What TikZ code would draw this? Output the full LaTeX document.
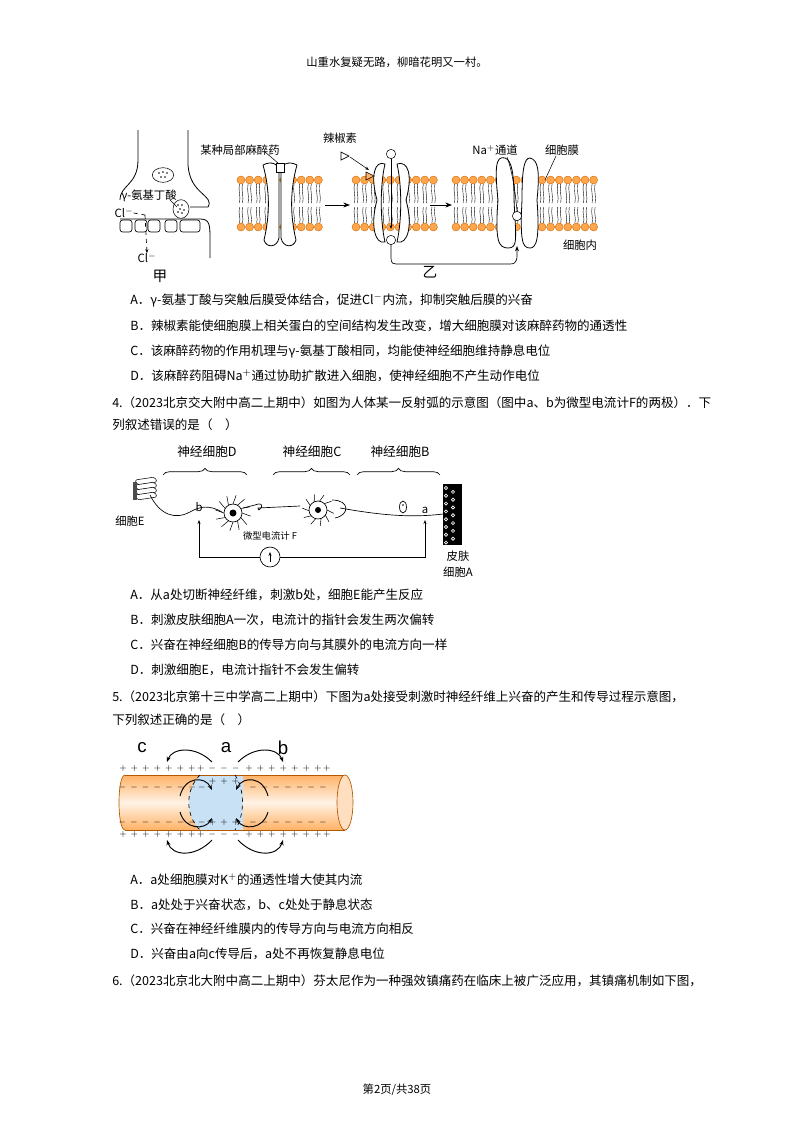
\documentclass[tikz,border=0pt]{standalone}
\usepackage{fontspec}
\setmainfont{Liberation Serif}
\newfontfamily\cjk{Noto Sans CJK SC}
\newfontfamily\lsans{Liberation Sans}
\usetikzlibrary{arrows.meta,decorations.pathreplacing,calc,shapes.geometric}
\definecolor{lblue}{RGB}{200,225,245}
\begin{document}
\begin{tikzpicture}[x=0.75pt,y=-0.75pt,
  txt/.style={anchor=west,inner sep=0,font=\cjk\fontsize{9.4}{12}\selectfont},
  lbl/.style={inner sep=0,font=\cjk\fontsize{8.5}{10}\selectfont},
  sg/.style={inner sep=0,font=\fontsize{6}{7}\selectfont},
  bead/.style={fill=orange!70,draw=orange!80!black,line width=0.3pt},
  prot/.style={draw,fill=white,line width=0.6pt},
  arr/.style={-{Stealth[length=5pt]},line width=0.6pt}]
\useasboundingbox (0,0) rectangle (794,1122);
\node[lbl] (hdr) at (397,62) {山重水复疑无路，柳暗花明又一村。};
% ---------- figure 1 jia
\draw[line width=0.6pt] (138,130) -- (138,160) .. controls (138,185) and (120,185) .. (120,200);
\draw[line width=0.6pt] (188,130) -- (188,165) .. controls (190,195) and (215,195) .. (208,207) -- (190,207);
\draw[line width=0.6pt] (120,219) -- (200,219) .. controls (210,219) and (210,225) .. (210,240) -- (210,258);
\foreach \x in {120,135,148,165}{\draw[line width=0.5pt,rounded corners=2pt] (\x,220) rectangle ++(12,12);}
\draw[line width=0.5pt,rounded corners=2pt] (180,220) rectangle ++(20,12);
\node[draw,ellipse,minimum width=16pt,minimum height=11pt,inner sep=0] (ves1) at (163,175) {};
\foreach \p in {(159,173),(163,172),(167,173),(161,177),(165,177)}{\fill \p circle (0.9);}
\node[draw,ellipse,fill=white,minimum width=12pt,minimum height=14pt,inner sep=0] (ves2) at (181,209) {};
\foreach \p in {(178,205),(182,205),(180,209),(184,210),(178,212),(182,213)}{\fill \p circle (0.9);}
\node[lbl,anchor=west] (gaba) at (121,196) {γ-氨基丁酸};
\draw[line width=0.4pt] (170,200) -- (177,207);
\node[lbl] (cl1) at (124,213) {Cl$^{-}$};
\node[lbl] (cl2) at (147,258) {Cl$^{-}$};
\draw[dashed,line width=0.5pt] (cl1.east) -- (145,215);
\draw[dashed,-{Stealth[length=3pt]},line width=0.5pt] (145,215) -- (cl2.north);
\node[lbl,font=\cjk\fontsize{11}{12}\selectfont] (jia) at (160,276) {甲};
% ---------- membranes
\foreach \s/\e in {237/323,352/430,452/590}{
  \pgfmathsetmacro{\n}{int((\e-\s)/8.6)}
  \foreach \i in {0,...,\n}{
    \pgfmathsetmacro{\xx}{\s+4+\i*8.6}
    \draw[line width=0.3pt] (\xx-1.5,184) .. controls (\xx-3,192) and (\xx,196) .. (\xx-1.5,203);
    \draw[line width=0.3pt] (\xx+1.5,184) .. controls (\xx,192) and (\xx+3,196) .. (\xx+1.5,203);
    \draw[line width=0.3pt] (\xx-1.5,207) .. controls (\xx-3,214) and (\xx,218) .. (\xx-1.5,223);
    \draw[line width=0.3pt] (\xx+1.5,207) .. controls (\xx,214) and (\xx+3,218) .. (\xx+1.5,223);
    \draw[bead] (\xx,180) circle (4);
    \draw[bead] (\xx,227) circle (4);
  }
}
% protein 1
\draw[prot] (263,165) .. controls (272,160) and (280,165) .. (279,172) -- (279,238) .. controls (277,248) and (266,248) .. (264,240) .. controls (270,215) and (270,190) .. (263,165);
\draw[prot] (297,165) .. controls (288,160) and (280,165) .. (281,172) -- (281,238) .. controls (283,248) and (294,248) .. (296,240) .. controls (290,215) and (290,190) .. (297,165);
\draw[prot] (276,163) rectangle (284,172);
\node[lbl,anchor=west] (ma) at (200,150) {某种局部麻醉药};
\draw[line width=0.4pt] (265,152) -- (278,163);
\draw[arr] (325,205) -- (350,205);
% protein 2
\draw[prot] (385,164) .. controls (375,160) and (370,175) .. (377,200) .. controls (370,225) and (375,245) .. (385,242) .. controls (380,220) and (380,185) .. (385,164);
\draw[prot] (397,164) .. controls (408,160) and (413,175) .. (406,200) .. controls (413,225) and (408,245) .. (397,242) .. controls (402,220) and (402,185) .. (397,164);
\draw[fill=orange!60,line width=0.4pt] (366,172) -- (374,176) -- (366,180) -- cycle;
\node[draw,circle,minimum size=7pt,inner sep=0] (na1) at (391,154) {};
\node[draw,circle,minimum size=7pt,inner sep=0] (na2) at (391,240) {};
\draw[-{Stealth[length=3pt]},line width=0.4pt] (na1.south) -- ++(0,70);
\draw[line width=0.5pt] (341,152) -- (349,156) -- (341,160) -- cycle;
\node[lbl] (lj) at (340,138) {辣椒素};
\draw[-{Stealth[length=3pt]},line width=0.4pt] (350,157) -- (369,170);
\draw[arr] (430,205) -- (452,205);
% protein 3
\draw[prot] (505,158) .. controls (495,155) and (495,170) .. (498,200) .. controls (495,240) and (498,248) .. (508,248) .. controls (518,248) and (516,240) .. (514,200) .. controls (514,175) and (512,160) .. (505,158);
\draw[prot] (530,158) .. controls (538,160) and (540,170) .. (537,200) .. controls (540,240) and (536,248) .. (530,248) .. controls (522,248) and (520,240) .. (522,200) .. controls (522,170) and (524,158) .. (530,158);
\node[draw,circle,fill=white,minimum size=7pt,inner sep=0] (na3) at (517,216) {};
\node[lbl] (nac) at (495,150) {Na$^{+}$通道};
\draw[line width=0.4pt] (507,157) .. controls (512,170) and (516,195) .. (517,212);
\node[lbl] (mem) at (562,150) {细胞膜};
\draw[line width=0.4pt] (556,156) -- (545,180);
\node[lbl] (nei) at (580,245) {细胞内};
\draw[-{Stealth[length=4pt]},line width=0.5pt] (na2.south) -- (391,258) .. controls (391,264) and (393,264) .. (400,264) -- (510,264) .. controls (518,264) and (517,258) .. (517,246);
\node[lbl,font=\cjk\fontsize{11}{12}\selectfont] (yi) at (430,272) {乙};
% ---------- Q3 options
\node[txt] (q3a) at (130,300) {A．γ-氨基丁酸与突触后膜受体结合，促进Cl$^{-}$内流，抑制突触后膜的兴奋};
\node[txt] (q3b) at (130,326) {B．辣椒素能使细胞膜上相关蛋白的空间结构发生改变，增大细胞膜对该麻醉药物的通透性};
\node[txt] (q3c) at (130,351) {C．该麻醉药物的作用机理与γ-氨基丁酸相同，均能使神经细胞维持静息电位};
\node[txt] (q3d) at (130,376) {D．该麻醉药阻碍Na$^{+}$通过协助扩散进入细胞，使神经细胞不产生动作电位};
\node[txt] (q4) at (112,403) {4.（2023北京交大附中高二上期中）如图为人体某一反射弧的示意图（图中a、b为微型电流计F的两极）．下};
\node[txt] (q4b) at (112,425) {列叙述错误的是（　）};
% ---------- figure 2
\foreach \a/\b/\t/\c in {163/247/神经细胞D/207,273/350/神经细胞C/312,357/440/神经细胞B/400}{
  \draw[decorate,decoration={brace,amplitude=5pt},line width=0.5pt] (\a,475) -- (\b,475);
  \node[lbl,font=\cjk\fontsize{9.5}{11}\selectfont] at (\c,452) {\t};
}
\foreach \yy in {0,5,10,15}{\draw[line width=0.4pt,fill=white,rounded corners=1.5pt] (135,480+\yy) -- (155,477+\yy) -- (157,482+\yy) -- (137,485+\yy) -- cycle;}
\fill[black!70] (133,482) rectangle (137,500);
\node[lbl] (E) at (130,521) {细胞E};
\draw[line width=0.5pt] (150,495) .. controls (160,515) and (175,520) .. (190,512) .. controls (200,506) and (210,505) .. (222,512);
\node[lbl] (b) at (199,507) {b};
% neuron D
\fill (233,513) circle (3.5);
\draw[line width=0.5pt] (233,513) circle (9);
\foreach \ang in {0,30,...,330}{\draw[line width=0.4pt] ($(233,513)+(\ang:9)$) -- ($(233,513)+(\ang+10:18)$);}
\draw[line width=0.5pt] (243,508) -- (255,505) .. controls (268,500) and (258,515) .. (258,508) -- (300,506);
% neuron C
\fill (318,510) circle (3);
\draw[line width=0.5pt] (318,510) circle (9);
\foreach \ang in {0,35,...,330}{\draw[line width=0.4pt] ($(318,510)+(\ang:9)$) -- ($(318,510)+(\ang+12:16)$);}
\draw[line width=0.5pt] (332,500) .. controls (350,500) and (350,515) .. (335,518);
\draw[line width=0.5pt] (340,508) .. controls (380,515) and (410,518) .. (443,514);
\draw[line width=0.5pt] (403,507) ellipse (3.5 and 6);
\fill (403,505) circle (0.8);
\node[lbl] (a) at (425,510) {a};
% skin
\fill (443,484) rectangle (462,545);
\foreach \i in {0,...,14}{\pgfmathsetmacro{\px}{446+mod(\i*7,14)}\pgfmathsetmacro{\py}{488+\i*3.9}\draw[white,line width=0.5pt] (\px,\py) circle (1.6);}
\node[lbl] (skin) at (458,556) {皮肤};
\node[lbl] (skinA) at (458,572) {细胞A};
% meter
\node[draw,circle,minimum size=15pt,inner sep=0,line width=0.5pt] (F) at (270,557) {};
\draw[-{Stealth[length=3pt]},line width=0.5pt] ($(F)+(0,5)$) -- ($(F)+(0,-5)$);
\node[lbl,font=\cjk\fontsize{7}{8}\selectfont] (Fl) at (270,536) {微型电流计 F};
\draw[-{Stealth[length=3pt]},line width=0.5pt] (F.west) -- (199,557) -- (199,520);
\draw[-{Stealth[length=3pt]},line width=0.5pt] (F.east) -- (425,557) -- (425,520);
% ---------- Q4 options
\node[txt] (q4a) at (130,595) {A．从a处切断神经纤维，刺激b处，细胞E能产生反应};
\node[txt] (q4bb) at (130,620) {B．刺激皮肤细胞A一次，电流计的指针会发生两次偏转};
\node[txt] (q4c) at (130,645) {C．兴奋在神经细胞B的传导方向与其膜外的电流方向一样};
\node[txt] (q4d) at (130,670) {D．刺激细胞E，电流计指针不会发生偏转};
\node[txt] (q5) at (112,697) {5.（2023北京第十三中学高二上期中）下图为a处接受刺激时神经纤维上兴奋的产生和传导过程示意图，};
\node[txt] (q5b) at (112,720) {下列叙述正确的是（　）};
% ---------- figure 3
\shade[top color=orange!60,bottom color=orange!60,middle color=orange!10] (125,775) rectangle (345,830);
\shade[top color=orange!60,bottom color=orange!60,middle color=orange!10] (125,775) .. controls (117,775) and (117,830) .. (125,830) -- cycle;
\fill[lblue] (200,775) .. controls (185,790) and (185,815) .. (200,830) -- (243,830) -- (243,775) -- cycle;
\draw[orange!70!black,line width=0.5pt] (125,775) -- (345,775) (125,830) -- (345,830);
\draw[orange!70!black,line width=0.5pt] (125,775) .. controls (117,775) and (117,830) .. (125,830);
\draw[orange!70!black,fill=orange!25,line width=0.5pt] (345,802.5) ellipse (8 and 27.5);
\draw[dashed,line width=0.5pt] (200,775) .. controls (185,790) and (185,815) .. (200,830);
\draw[dashed,line width=0.5pt] (235,775) .. controls (245,790) and (245,815) .. (235,830);
\foreach \yy in {768,834}{
  \node[sg] at (162,\yy) {$+\,+\,+\,+\,+\,+\,+\,+$};
  \node[sg] at (288,\yy) {$+\,+\,+\,+\,+\,+\,+\,+$};
  \node[sg] at (224,\yy) {$-\,-\,-$};
}
\foreach \yy in {787,822}{
  \node[sg] at (162,\yy) {$-\,-\,-\,-\,-\,-\,-\,-$};
  \node[sg] at (288,\yy) {$-\,-\,-\,-\,-\,-\,-$};
}
\foreach \yy in {781,822}{
  \node[sg] at (224,\yy) {$+\,+\,+$};
}
\node[lbl,font=\lsans\fontsize{14}{14}\selectfont] (c) at (142,748) {c};
\node[lbl,font=\lsans\fontsize{14}{14}\selectfont] (a3) at (226,748) {a};
\node[lbl,font=\lsans\fontsize{14}{14}\selectfont] (b3) at (283,748) {b};
\tikzset{carr/.style={-{Stealth[length=4pt]},line width=0.7pt}}
\draw[carr] (212,762) .. controls (195,745) and (172,748) .. (167,762);
\draw[carr] (238,762) .. controls (255,745) and (278,748) .. (283,762);
\draw[carr] (180,796) .. controls (185,776) and (205,776) .. (212,790);
\draw[carr] (268,796) .. controls (263,776) and (243,776) .. (236,790);
\draw[carr] (180,812) .. controls (185,830) and (205,830) .. (212,818);
\draw[carr] (268,812) .. controls (263,830) and (243,830) .. (236,818);
\draw[carr] (212,840) .. controls (195,858) and (172,856) .. (167,840);
\draw[carr] (238,840) .. controls (255,858) and (278,856) .. (283,840);
% ---------- Q5 options
\node[txt] (q5a) at (130,880) {A．a处细胞膜对K$^{+}$的通透性增大使其内流};
\node[txt] (q5bb) at (130,905) {B．a处处于兴奋状态，b、c处处于静息状态};
\node[txt] (q5c) at (130,929) {C．兴奋在神经纤维膜内的传导方向与电流方向相反};
\node[txt] (q5d) at (130,954) {D．兴奋由a向c传导后，a处不再恢复静息电位};
\node[txt] (q6) at (112,981) {6.（2023北京北大附中高二上期中）芬太尼作为一种强效镇痛药在临床上被广泛应用，其镇痛机制如下图，};
\node[lbl] (ftr) at (397,1090) {第2页/共38页};
\end{tikzpicture}
\end{document}
